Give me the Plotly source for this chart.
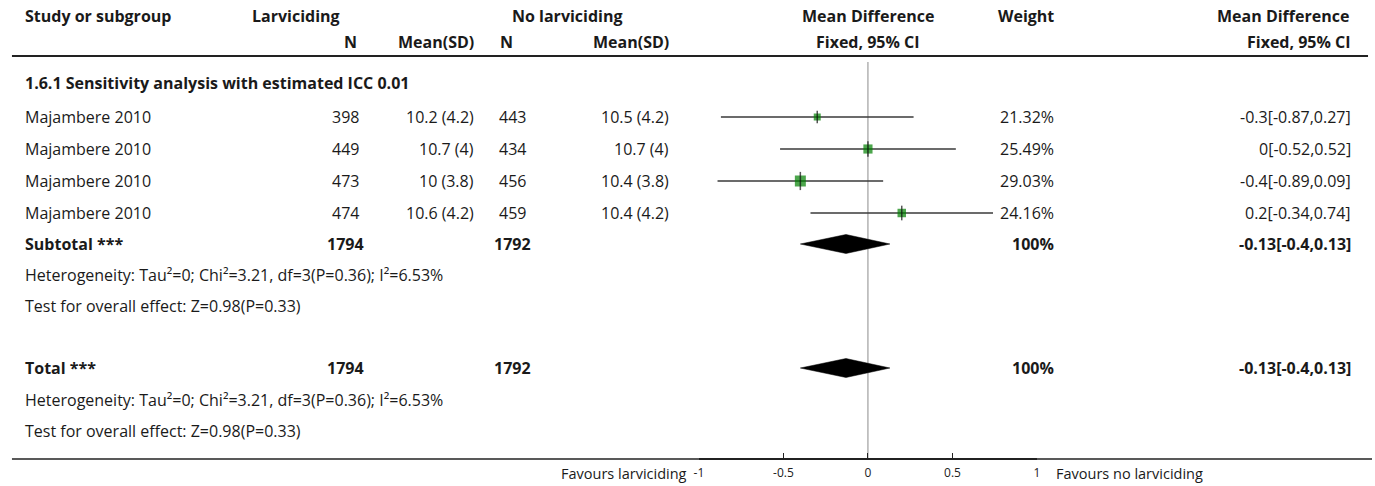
import plotly.graph_objects as go

# ---------------- data ----------------
study_names = ["Majambere 2010", "Majambere 2010", "Majambere 2010", "Majambere 2010"]
n_larv = [398, 449, 473, 474]
mean_larv = [10.2, 10.7, 10, 10.6]
sd_larv = [4.2, 4, 3.8, 4.2]
n_nolarv = [443, 434, 456, 459]
mean_nolarv = [10.5, 10.7, 10.4, 10.4]
sd_nolarv = [4.2, 4, 3.8, 4.2]
mean_diff = [-0.3, 0, -0.4, 0.2]
ci_low = [-0.87, -0.52, -0.89, -0.34]
ci_high = [0.27, 0.52, 0.09, 0.74]
weights = [21.32, 25.49, 29.03, 24.16]

group_title = "1.6.1 Sensitivity analysis with estimated ICC 0.01"
pooled_n_larv = 1794
pooled_n_nolarv = 1792
pooled_md = -0.13
pooled_low = -0.4
pooled_high = 0.13
pooled_weight = 100
heterogeneity_text = "Heterogeneity: Tau²=0; Chi²=3.21, df=3(P=0.36); I²=6.53%"
overall_text = "Test for overall effect: Z=0.98(P=0.33)"
tick_vals = [-1, -0.5, 0, 0.5, 1]
tick_text = ["-1", "-0.5", "0", "0.5", "1"]
favours_left = "Favours larviciding"
favours_right = "Favours no larviciding"

# ---------------- layout constants (pixels) ----------------
W, H = 1375, 486
FONT = "Open Sans"
FS = 16
Y_H1, Y_H2, Y_HLINE = 16, 42, 56
Y_GROUP = 83
Y_STUDIES = [117, 149, 181, 213]
Y_SUB, Y_SUB_HET, Y_SUB_TEST = 244, 275, 306
Y_TOT, Y_TOT_HET, Y_TOT_TEST = 368, 400, 431
Y_AXIS = 459
X_AX0, X_AX1 = 698, 1038

X_STUDY = 18
X_N1 = 342       # center
X_M1 = 474       # right
X_N2 = 510       # center
X_M2 = 670       # right
X_MD = 868       # center
X_W = 1057       # right
X_RES = 1356     # right


def fmt(v):
    return f"{v:g}"


annotations = []


def txt(x, y, text, anchor="left", bold=False, size=FS, color="#1a1a1a"):
    annotations.append(dict(
        x=x / W, xref="paper", y=y, yref="y", text=f"<b>{text}</b>" if bold else text,
        showarrow=False, xanchor=anchor, yanchor="middle",
        font=dict(family=FONT, size=size, color=color),
    ))


# headers
txt(X_STUDY, Y_H1, "Study or subgroup", bold=True)
txt(293, Y_H1, "Larviciding", "center", bold=True)
txt(566, Y_H1, "No larviciding", "center", bold=True)
txt(X_MD, Y_H1, "Mean Difference", "center", bold=True)
txt(X_W, Y_H1, "Weight", "right", bold=True)
txt(1285, Y_H1, "Mean Difference", "center", bold=True)
txt(348, Y_H2, "N", "center", bold=True)
txt(X_M1, Y_H2, "Mean(SD)", "right", bold=True)
txt(504, Y_H2, "N", "center", bold=True)
txt(X_M2, Y_H2, "Mean(SD)", "right", bold=True)
txt(X_MD, Y_H2, "Fixed, 95% CI", "center", bold=True)
txt(X_RES, Y_H2, "Fixed, 95% CI", "right", bold=True)

txt(X_STUDY, Y_GROUP, group_title, bold=True)

for i, y in enumerate(Y_STUDIES):
    txt(X_STUDY, y, study_names[i])
    txt(X_N1, y, str(n_larv[i]), "center")
    txt(X_M1, y, f"{fmt(mean_larv[i])} ({fmt(sd_larv[i])})", "right")
    txt(X_N2, y, str(n_nolarv[i]), "center")
    txt(X_M2, y, f"{fmt(mean_nolarv[i])} ({fmt(sd_nolarv[i])})", "right")
    txt(X_W, y, f"{weights[i]:.2f}%", "right")
    txt(X_RES, y, f"{fmt(mean_diff[i])}[{fmt(ci_low[i])},{fmt(ci_high[i])}]", "right")

for label, yr, yh, yt in [("Subtotal ***", Y_SUB, Y_SUB_HET, Y_SUB_TEST),
                          ("Total ***", Y_TOT, Y_TOT_HET, Y_TOT_TEST)]:
    txt(X_STUDY, yr, label, bold=True)
    txt(X_N1, yr, str(pooled_n_larv), "center", bold=True)
    txt(X_N2, yr, str(pooled_n_nolarv), "center", bold=True)
    txt(X_W, yr, f"{pooled_weight}%", "right", bold=True)
    txt(X_RES, yr, f"{fmt(pooled_md)}[{fmt(pooled_low)},{fmt(pooled_high)}]", "right", bold=True)
    txt(X_STUDY, yh, heterogeneity_text)
    txt(X_STUDY, yt, overall_text)

txt(688, 473, favours_left, "right", size=14.5)
txt(1055, 473, favours_right, "left", size=14.5)

fig = go.Figure()

# zero line
fig.add_trace(go.Scatter(x=[0, 0], y=[62, Y_AXIS], mode="lines",
                         line=dict(color="#8c8c8c", width=1), hoverinfo="skip", showlegend=False))

# CI lines
cx, cy = [], []
for lo, hi, y in zip(ci_low, ci_high, Y_STUDIES):
    cx += [lo, hi, None]
    cy += [y, y, None]
fig.add_trace(go.Scatter(x=cx, y=cy, mode="lines", line=dict(color="#3a3a3a", width=1.5),
                         hoverinfo="skip", showlegend=False))

# squares sized by weight
wmin, wmax = min(weights), max(weights)
sizes = [7 + (w - wmin) / (wmax - wmin) * 4 for w in weights]
fig.add_trace(go.Scatter(x=mean_diff, y=Y_STUDIES, mode="markers",
                         marker=dict(symbol="square", color="#008000", size=sizes, line=dict(width=0)),
                         hoverinfo="skip", showlegend=False))
fig.add_trace(go.Scatter(x=mean_diff, y=Y_STUDIES, mode="markers",
                         marker=dict(symbol="line-ns", size=[s + 2 for s in sizes],
                                     line=dict(color="#111111", width=1.5)),
                         hoverinfo="skip", showlegend=False))

# diamonds
for yr in (Y_SUB, Y_TOT):
    fig.add_trace(go.Scatter(
        x=[pooled_low, pooled_md, pooled_high, pooled_md, pooled_low],
        y=[yr, yr - 9.5, yr, yr + 9.5, yr],
        mode="lines", fill="toself", fillcolor="black",
        line=dict(color="black", width=0.5), hoverinfo="skip", showlegend=False))

shapes = [
    dict(type="line", xref="paper", yref="y", x0=7 / W, x1=1371 / W, y0=Y_HLINE, y1=Y_HLINE,
         line=dict(color="#222", width=2)),
    dict(type="line", xref="paper", yref="y", x0=7 / W, x1=1, y0=Y_AXIS, y1=Y_AXIS,
         line=dict(color="#222", width=1.5)),
]

fig.update_layout(
    width=W, height=H, autosize=False,
    margin=dict(l=0, r=0, t=0, b=0),
    paper_bgcolor="white", plot_bgcolor="white",
    showlegend=False,
    annotations=annotations,
    shapes=shapes,
    xaxis=dict(domain=[X_AX0 / W, X_AX1 / W], range=[-1, 1], tickvals=tick_vals, ticktext=tick_text,
               ticks="inside", ticklen=5, tickcolor="#222", showline=True, linecolor="#222",
               linewidth=1.5, showgrid=False, zeroline=False, anchor="free",
               position=(H - Y_AXIS) / H, tickfont=dict(family=FONT, size=12, color="#222"),
               ticklabelstandoff=3, fixedrange=True),
    yaxis=dict(domain=[0, 1], range=[H, 0], visible=False, fixedrange=True),
)

fig.write_html("out.html", config={"displayModeBar": False},
               post_script="document.body.style.margin='0';document.body.style.overflow='hidden';")
